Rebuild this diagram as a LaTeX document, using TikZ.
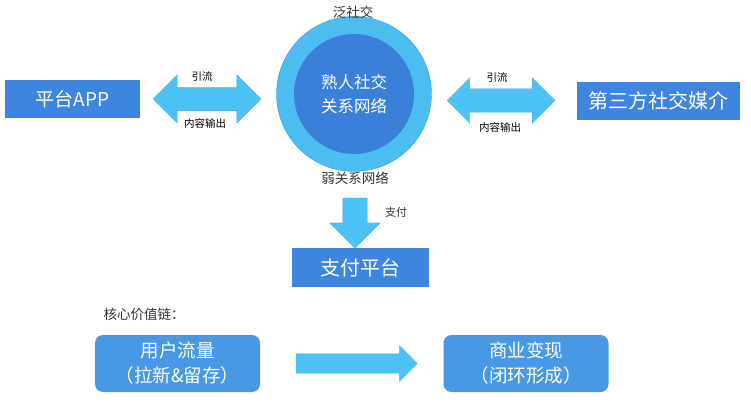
\documentclass[tikz,border=0pt]{standalone}
\usepackage{fontspec}
\setmainfont{Noto Sans CJK SC}
\usetikzlibrary{shapes.arrows,calc}
\definecolor{boxblue}{HTML}{3E85DF}
\definecolor{arrowblue}{HTML}{4CC2F5}
\definecolor{ringblue}{HTML}{4CBDF1}
\definecolor{ringedge}{HTML}{3A9FDC}
\definecolor{coreblue}{HTML}{3A80D9}
\definecolor{roundblue}{HTML}{4799E6}
\definecolor{labelgray}{HTML}{333333}
\begin{document}
\begin{tikzpicture}[x=1pt, y=-1pt,
    box/.style={fill=boxblue, text=white, inner sep=0pt, font=\fontsize{19}{21}\selectfont},
    valuebox/.style={fill=roundblue, text=white, rounded corners=8pt, align=center,
        minimum width=165pt, minimum height=57pt, font=\fontsize{18.5}{25}\selectfont},
    fatarrow/.style={fill=arrowblue, draw=arrowblue!85!black, line width=0.3pt, inner xsep=0pt},
    lbl/.style={font=\fontsize{10.5}{12}\selectfont},
    note/.style={text=labelgray, font=\fontsize{13.5}{15}\selectfont}]
\useasboundingbox (0,0) rectangle (751,406);

    % Kotak dan lingkaran
    \node[box, minimum width=135pt, minimum height=38pt] (app) at (72.5,99) {平台APP};
    \node[box, minimum width=163pt, minimum height=38pt, font=\fontsize{20}{22}\selectfont] (media) at (658.5,101) {第三方社交媒介};
    \node[box, minimum width=137pt, minimum height=39pt, font=\fontsize{20}{22}\selectfont] (pay) at (360.5,267.5) {支付平台};
    \node[circle, fill=ringblue, draw=ringedge, minimum size=155pt] (ring) at (354,94) {};
    \node[circle, fill=coreblue, minimum size=120pt, text=white, align=center,
         font=\fontsize{16.5}{24}\selectfont] (core) at (ring.center) {熟人社交\\关系网络};
    \node[note] (wide) at (353,12) {泛社交};
    \node[note] (weak) at (355,178) {弱关系网络};

    % Panah tebal
    \node[fatarrow, double arrow, inner ysep=11.5pt, double arrow head extend=12.5pt,
         double arrow head indent=0pt, minimum width=48pt, minimum height=108pt] (flowL) at (207,99) {};
    \node[fatarrow, double arrow, inner ysep=11.5pt, double arrow head extend=11pt,
         double arrow head indent=0pt, minimum width=45pt, minimum height=108pt] (flowR) at (501,100.5) {};
    \node[fatarrow, single arrow, shape border rotate=270, inner sep=12pt, single arrow head extend=13pt,
         single arrow head indent=0pt, minimum width=50pt, minimum height=50pt] (down) at (355,217) {};

    \node[lbl] (leadL) at (202,77) {引流};
    \node[lbl] (outL) at (205,123) {内容输出};
    \node[lbl] (leadR) at (497,78) {引流};
    \node[lbl] (outR) at (500,127) {内容输出};
    \node[lbl, text=labelgray, font=\fontsize{11}{12}\selectfont] (paylbl) at (396,212) {支付};

    % Rantai nilai inti
    \node[note, anchor=west] (chain) at (100,314) {核心价值链：};
    \node[valuebox] (users) at (177.5,363.5) {用户流量\\（拉新\&留存）};
    \node[valuebox] (money) at (526,363.5) {商业变现\\（闭环形成）};
    \node[fatarrow, single arrow, inner ysep=9.5pt, single arrow head extend=8pt, single arrow head indent=0pt,
         minimum width=35pt, minimum height=121pt] (value) at ($(users.east)!0.5!(money.west)$) {};

\end{tikzpicture}
\end{document}
